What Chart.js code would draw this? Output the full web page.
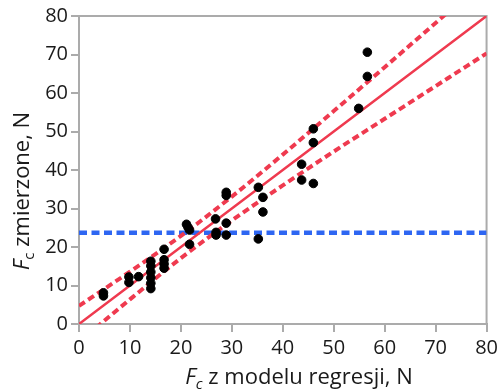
<!DOCTYPE html>
<html>
<head>
<meta charset="utf-8">
<script src="https://cdn.jsdelivr.net/npm/chart.js@4"></script>
<style>
  html, body { margin: 0; padding: 0; background: #fff; }
  #wrap { width: 502px; height: 391px; }
</style>
</head>
<body>
<div id="wrap"><canvas id="chart" width="502" height="391"></canvas></div>
<script>
// measured vs. regression model values (N)
const modelX = [4.8, 4.8, 9.8, 9.8, 11.7,
  14.1, 14.1, 14.1, 14.1, 14.1, 14.1,
  16.7, 16.7, 16.7, 16.7,
  21.1, 21.4, 21.7, 21.7,
  26.8, 26.9, 26.9,
  28.9, 28.9, 28.9, 28.9,
  35.2, 35.2, 36.1, 36.1,
  43.7, 43.7, 46.0, 46.0, 46.0,
  54.9, 56.6, 56.6];
const measuredY = [8.1, 7.3, 12.2, 10.8, 12.3,
  16.3, 15.1, 13.5, 12.0, 10.6, 9.2,
  19.4, 16.7, 15.6, 14.5,
  25.9, 25.1, 24.4, 20.7,
  27.3, 23.1, 23.8,
  34.2, 33.4, 26.2, 23.1,
  35.5, 22.1, 32.9, 29.1,
  41.5, 37.4, 50.7, 47.1, 36.5,
  56.0, 70.6, 64.3];

// regression line and band
const bandX = [0, 10, 20, 30, 40, 50, 60, 70, 80];
const fitY = [0, 10, 20, 30, 40, 50, 60, 70, 80];
const upperY = [4.7, 13.6, 22.9, 33.1, 44.0, 55.3, 66.7, 78.2, 89.7];
const lowerY = [-4.7, 6.4, 17.1, 26.9, 36.0, 44.8, 53.3, 61.8, 70.3];

const refX = [0, 80];
const refY = [23.7, 23.7];

const xTicks = [0, 10, 20, 30, 40, 50, 60, 70, 80];
const yTicks = [0, 10, 20, 30, 40, 50, 60, 70, 80];

const RED = '#ef3a4f';
const BLUE = '#2e66f2';
const AXIS = '#ababab';
const FONT = '"Open Sans", "Noto Sans", sans-serif';

const toPts = (xs, ys) => xs.map((x, i) => ({ x: x, y: ys[i] }));

// box + axis titles with italic F and subscript c
const frame = {
  id: 'frame',
  beforeDatasetsDraw(chart) {
    const { ctx, chartArea: a } = chart;
    ctx.save();
    ctx.strokeStyle = AXIS;
    ctx.lineWidth = 2;
    ctx.beginPath();
    ctx.moveTo(a.left, a.top);
    ctx.lineTo(a.right, a.top);
    ctx.lineTo(a.right, a.bottom);
    ctx.stroke();
    ctx.restore();
  },
  afterDraw(chart) {
    const { ctx } = chart;
    const drawTitle = (rest, subItalic) => {
      const parts = [
        { t: 'F', f: 'italic 22px ' + FONT, dy: 0 },
        { t: 'c', f: (subItalic ? 'italic ' : '') + '15px ' + FONT, dy: 5 },
        { t: rest, f: '22px ' + FONT, dy: 0 }
      ];
      let w = 0;
      parts.forEach(p => { ctx.font = p.f; p.w = ctx.measureText(p.t).width; w += p.w; });
      let x = -w / 2;
      parts.forEach(p => {
        ctx.font = p.f;
        ctx.fillText(p.t, x, p.dy);
        x += p.w;
      });
    };
    ctx.save();
    ctx.fillStyle = '#1a1a1a';
    ctx.textBaseline = 'alphabetic';
    ctx.textAlign = 'left';
    ctx.save();
    ctx.translate(299, 384);
    drawTitle(' z modelu regresji, N', true);
    ctx.restore();
    ctx.save();
    ctx.translate(29, 191);
    ctx.rotate(-Math.PI / 2);
    drawTitle(' zmierzone, N', false);
    ctx.restore();
    ctx.restore();
  }
};

new Chart(document.getElementById('chart').getContext('2d'), {
  type: 'scatter',
  data: {
    datasets: [
      {
        label: 'pomiary',
        data: toPts(modelX, measuredY),
        backgroundColor: '#000',
        borderColor: '#000',
        pointRadius: 4.3,
        pointHoverRadius: 4.3,
        order: 0
      },
      {
        label: 'regresja',
        data: toPts(bandX, fitY),
        showLine: true,
        borderColor: RED,
        borderWidth: 2.5,
        pointRadius: 0,
        order: 1
      },
      {
        label: 'górna granica',
        data: toPts(bandX, upperY),
        showLine: true,
        borderColor: RED,
        borderWidth: 4,
        borderDash: [7, 4],
        cubicInterpolationMode: 'monotone',
        pointRadius: 0,
        order: 2
      },
      {
        label: 'dolna granica',
        data: toPts(bandX, lowerY),
        showLine: true,
        borderColor: RED,
        borderWidth: 4,
        borderDash: [7, 4],
        cubicInterpolationMode: 'monotone',
        pointRadius: 0,
        order: 2
      },
      {
        label: 'próg',
        data: toPts(refX, refY),
        showLine: true,
        borderColor: BLUE,
        borderWidth: 4.5,
        borderDash: [8, 4.5],
        pointRadius: 0,
        order: 3
      }
    ]
  },
  options: {
    responsive: false,
    animation: false,
    layout: { padding: { top: 16, right: 15, left: 0, bottom: 0 } },
    plugins: {
      legend: { display: false },
      tooltip: { enabled: false }
    },
    scales: {
      x: {
        type: 'linear',
        min: 0,
        max: 80,
        afterFit: s => { s.height = 67; },
        afterBuildTicks: s => { s.ticks = xTicks.map(v => ({ value: v })); },
        grid: { drawOnChartArea: false, drawTicks: true, tickLength: 8, color: AXIS, lineWidth: 2 },
        border: { display: true, color: AXIS, width: 2 },
        ticks: { color: '#1a1a1a', padding: 4, font: { family: FONT, size: 20 }, maxRotation: 0 }
      },
      y: {
        type: 'linear',
        min: 0,
        max: 80,
        afterFit: s => { s.width = 79; },
        afterBuildTicks: s => { s.ticks = yTicks.map(v => ({ value: v })); },
        grid: { drawOnChartArea: false, drawTicks: true, tickLength: 8, color: AXIS, lineWidth: 2 },
        border: { display: true, color: AXIS, width: 2 },
        ticks: { color: '#1a1a1a', padding: 3, font: { family: FONT, size: 20 } }
      }
    }
  },
  plugins: [frame]
});
</script>
</body>
</html>
